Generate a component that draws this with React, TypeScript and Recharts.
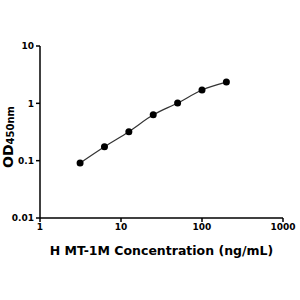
import React from 'react';
import { LineChart, Line, XAxis, YAxis } from 'recharts';

const concentrations = [3.125, 6.25, 12.5, 25, 50, 100, 200];
const odValues = [0.091, 0.175, 0.32, 0.63, 1.01, 1.71, 2.35];
const xTicks = [1, 10, 100, 1000];
const yTicks = [0.01, 0.1, 1, 10];

const data = concentrations.map((c, i) => ({ x: c, y: odValues[i] }));

const font = '"DejaVu Sans", sans-serif';

const YLabel = (props: any) => {
  const vb = props.viewBox || {};
  const cx = 13;
  const cy = vb.y + vb.height / 2 + 5;
  return (
    <text
      x={cx}
      y={cy}
      transform={`rotate(-90, ${cx}, ${cy})`}
      textAnchor="middle"
      fontFamily={font}
      fontWeight="bold"
      fill="#000"
    >
      <tspan fontSize={14}>OD</tspan>
      <tspan fontSize={10} dy={1}>450nm</tspan>
    </text>
  );
};

const XLabel = (props: any) => {
  const vb = props.viewBox || {};
  const cx = vb.x + vb.width / 2;
  return (
    <text
      x={cx}
      y={255}
      textAnchor="middle"
      fontFamily={font}
      fontWeight="bold"
      fontSize={12.5}
      fill="#000"
    >
      H MT-1M Concentration (ng/mL)
    </text>
  );
};

export default function App() {
  return (
    <div style={{ position: 'absolute', left: 0, top: 0 }}>
      <LineChart
        width={300}
        height={300}
        data={data}
        margin={{ top: 46, right: 17, bottom: 52, left: 0 }}
      >
        <XAxis
          dataKey="x"
          type="number"
          scale="log"
          domain={[1, 1000]}
          ticks={xTicks}
          allowDataOverflow
          height={30}
          axisLine={{ stroke: '#000', strokeWidth: 1.5 }}
          tickLine={{ stroke: '#000', strokeWidth: 1.5 }}
          tickSize={4}
          tick={{ fill: '#000', fontSize: 9, fontWeight: 'bold', fontFamily: font }}
          label={<XLabel />}
        />
        <YAxis
          dataKey="y"
          type="number"
          scale="log"
          domain={[0.01, 10]}
          ticks={yTicks}
          allowDataOverflow
          width={40}
          axisLine={{ stroke: '#000', strokeWidth: 1.5 }}
          tickLine={{ stroke: '#000', strokeWidth: 1.5 }}
          tickSize={4}
          tick={{ fill: '#000', fontSize: 9, fontWeight: 'bold', fontFamily: font }}
          label={<YLabel />}
        />
        <Line
          dataKey="y"
          type="monotone"
          stroke="#333"
          strokeWidth={1.2}
          dot={{ r: 3.5, fill: '#000', stroke: '#000', strokeWidth: 0 }}
          isAnimationActive={false}
        />
      </LineChart>
    </div>
  );
}
